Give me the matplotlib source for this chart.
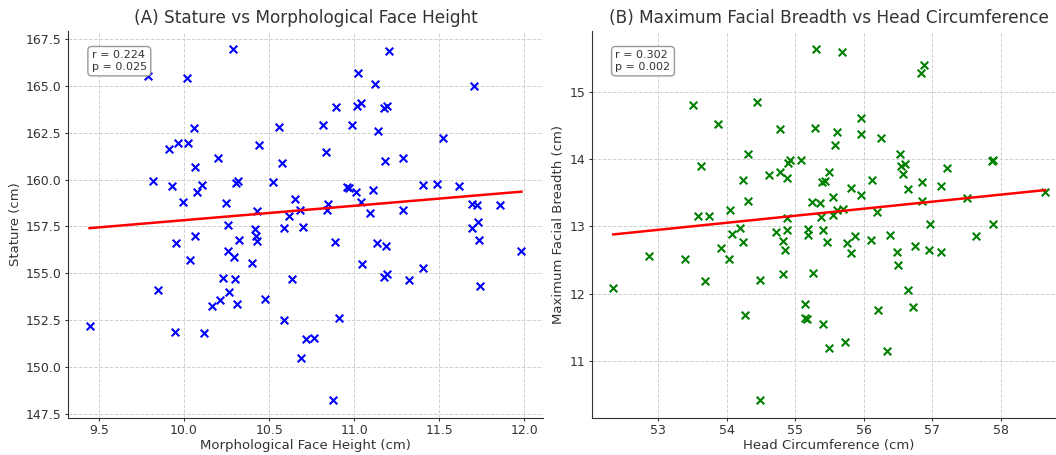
import numpy as np
import matplotlib
matplotlib.use("Agg")
import matplotlib.pyplot as plt

# Panel A: morphological face height (cm) vs stature (cm)
face_height = [
    9.788, 10.285, 10.020, 10.060, 9.912, 9.967, 10.024, 10.063, 10.197, 9.820,
    9.928, 9.993, 10.075, 10.103, 10.306, 10.315, 10.246, 10.442, 10.556, 10.577,
    10.522, 10.428, 10.650, 10.615, 10.680, 10.260, 10.416, 10.587, 10.700, 9.955,
    10.067, 10.036, 10.260, 10.291, 10.322, 10.420, 10.430, 10.397, 10.226, 10.299,
    10.263, 10.212, 10.165, 10.312, 10.475, 9.847, 9.445, 9.946, 10.116, 10.634,
    10.587, 10.718, 10.685, 11.203, 11.021, 11.705, 11.123, 10.895, 11.019, 11.040,
    11.172, 11.192, 10.817, 10.986, 11.142, 11.519, 10.834, 11.178, 11.286, 10.956,
    10.968, 11.009, 11.111, 11.405, 11.484, 11.615, 10.846, 10.842, 11.042, 11.095,
    11.289, 11.694, 11.723, 11.858, 11.729, 11.690, 10.889, 11.136, 11.189, 11.044,
    11.176, 11.192, 11.323, 11.401, 11.731, 11.982, 11.741, 10.911, 10.762, 10.876,
]
stature = [
    165.52, 167.00, 165.42, 162.75, 161.64, 161.96, 161.93, 160.68, 161.13, 159.93,
    159.68, 158.83, 159.33, 159.72, 159.82, 159.93, 158.76, 161.84, 162.82, 160.89,
    159.86, 158.33, 158.95, 158.06, 158.37, 157.56, 157.36, 157.44, 157.47, 156.59,
    156.98, 155.68, 156.18, 155.89, 156.78, 156.99, 156.73, 155.52, 154.75, 154.68,
    154.00, 153.56, 153.25, 153.33, 153.63, 154.08, 152.17, 151.87, 151.80, 154.68,
    152.49, 151.46, 150.48, 166.86, 165.72, 165.00, 165.10, 163.87, 163.94, 164.10,
    163.81, 163.94, 162.91, 162.93, 162.59, 162.25, 161.50, 160.98, 161.18, 159.61,
    159.54, 159.36, 159.43, 159.72, 159.74, 159.65, 158.67, 158.35, 158.78, 158.19,
    158.40, 158.72, 158.62, 158.65, 157.74, 157.44, 156.64, 156.59, 156.44, 155.47,
    154.80, 154.96, 154.61, 155.25, 156.76, 156.18, 154.32, 152.63, 151.51, 148.20,
]

# Panel B: head circumference (cm) vs maximum facial breadth (cm)
head_circ = [
    55.307, 53.511, 54.451, 53.872, 54.777, 55.292, 54.314, 53.633, 54.893, 54.927,
    55.088, 54.241, 54.620, 54.781, 54.889, 55.390, 55.434, 55.500, 54.314, 54.051,
    53.584, 53.740, 55.244, 55.356, 54.879, 55.375, 54.200, 55.677, 56.883, 56.835,
    55.964, 55.604, 55.955, 56.250, 55.584, 56.533, 56.548, 56.606, 56.572, 57.215,
    57.872, 57.886, 56.115, 55.809, 56.850, 57.131, 56.645, 55.964, 55.555, 56.854,
    57.502, 58.645, 55.609, 55.696, 55.555, 56.193, 56.966, 57.882, 55.409, 55.467,
    55.759, 55.876, 55.818, 56.105, 56.387, 56.485, 56.747, 56.947, 57.123, 57.633,
    56.500, 56.650, 56.207, 56.714, 55.409, 55.492, 55.730, 56.339, 52.349, 52.869,
    53.400, 53.686, 53.915, 54.032, 54.086, 54.236, 54.495, 54.270, 54.489, 54.718,
    54.879, 54.820, 54.850, 54.830, 55.185, 55.185, 55.263, 55.146, 55.146, 55.171,
]
facial_breadth = [
    15.644, 14.800, 14.856, 14.520, 14.445, 14.460, 14.077, 13.894, 13.943, 13.984,
    13.988, 13.695, 13.770, 13.810, 13.716, 13.665, 13.676, 13.814, 13.374, 13.244,
    13.155, 13.155, 13.363, 13.343, 13.130, 13.135, 12.975, 15.600, 15.400, 15.287,
    14.613, 14.405, 14.380, 14.320, 14.211, 14.077, 13.903, 13.929, 13.780, 13.874,
    13.978, 13.988, 13.686, 13.567, 13.656, 13.601, 13.557, 13.467, 13.433, 13.374,
    13.428, 13.507, 13.240, 13.254, 13.170, 13.219, 13.033, 13.031, 12.946, 12.773,
    12.749, 12.853, 12.600, 12.793, 12.868, 12.619, 12.713, 12.654, 12.615, 12.857,
    12.430, 12.050, 11.760, 11.800, 11.543, 11.186, 11.275, 11.141, 12.083, 12.560,
    12.520, 12.183, 12.679, 12.515, 12.891, 12.763, 12.198, 11.682, 10.412, 12.912,
    12.942, 12.783, 12.653, 12.287, 12.957, 12.868, 12.300, 11.845, 11.640, 11.617,
]

stats_a = "r = 0.224\np = 0.025"
stats_b = "r = 0.302\np = 0.002"

text_col = "#333333"
plt.rcParams.update({
    "font.family": "DejaVu Sans",
    "text.color": text_col,
    "axes.labelcolor": text_col,
    "axes.edgecolor": "#333333",
    "xtick.color": text_col,
    "ytick.color": text_col,
})

fig = plt.figure(figsize=(10.56, 4.55), dpi=100)
ax1 = fig.add_axes([0.0644, 0.0813, 0.4498, 0.8505])
ax2 = fig.add_axes([0.5603, 0.0813, 0.4498, 0.8505])


def panel(ax, x, y, color, title, xlabel, ylabel, stats):
    x = np.asarray(x)
    y = np.asarray(y)
    ax.scatter(x, y, marker="x", color=color, s=30, linewidths=1.5, zorder=3)
    slope, intercept = np.polyfit(x, y, 1)
    xs = np.array([x.min(), x.max()])
    ax.plot(xs, slope * xs + intercept, color="red", linewidth=1.8, zorder=4)
    ax.set_title(title, fontsize=12.2, color=text_col, pad=6)
    ax.set_xlabel(xlabel, fontsize=9.5, labelpad=1)
    ax.set_ylabel(ylabel, fontsize=9.5, labelpad=3)
    ax.tick_params(labelsize=9, length=2.5, pad=2)
    ax.grid(True, linestyle="--", color="#d0d0d0", linewidth=0.7)
    ax.set_axisbelow(True)
    for s in ["top", "right"]:
        ax.spines[s].set_visible(False)
    ax.text(0.05, 0.95, stats, transform=ax.transAxes, fontsize=8, va="top",
            bbox=dict(boxstyle="round,pad=0.35", facecolor="white", edgecolor="#999999"))


panel(ax1, face_height, stature, "blue", "(A) Stature vs Morphological Face Height",
      "Morphological Face Height (cm)", "Stature (cm)", stats_a)
ax1.set_yticks(np.arange(147.5, 168, 2.5))
ax1.set_xticks(np.arange(9.5, 12.01, 0.5))

panel(ax2, head_circ, facial_breadth, "green", "(B) Maximum Facial Breadth vs Head Circumference",
      "Head Circumference (cm)", "Maximum Facial Breadth (cm)", stats_b)

fig.savefig("out.png", dpi=100)
